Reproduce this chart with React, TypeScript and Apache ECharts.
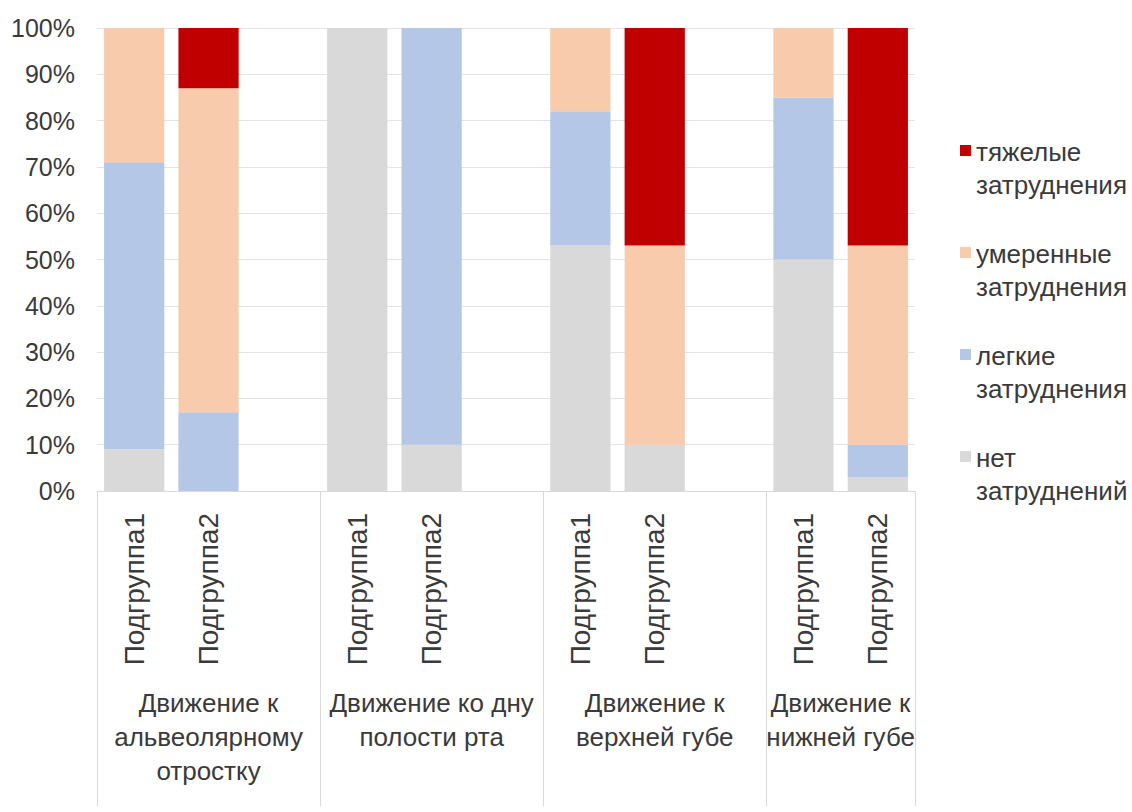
import React, { useEffect, useRef } from "react";
import * as echarts from "echarts";

// Movement groups (bottom level of the category axis)
const groupNames = [
  "Движение к\nальвеолярному\nотростку",
  "Движение ко дну\nполости рта",
  "Движение к\nверхней губе",
  "Движение к\nнижней губе",
];

// Subgroups inside each movement group
const subgroupNames = ["Подгруппа1", "Подгруппа2"];

// Shares (%) per bar, in order: group1/sub1, group1/sub2, group2/sub1, ...
const noDifficulty = [9, 0, 100, 10, 53, 10, 50, 3];
const mildDifficulty = [62, 17, 0, 90, 29, 0, 35, 7];
const moderateDifficulty = [29, 70, 0, 0, 18, 43, 15, 43];
const severeDifficulty = [0, 13, 0, 0, 0, 47, 0, 47];

const seriesNames = [
  "нет\nзатруднений",
  "легкие\nзатруднения",
  "умеренные\nзатруднения",
  "тяжелые\nзатруднения",
];
const seriesValues = [noDifficulty, mildDifficulty, moderateDifficulty, severeDifficulty];
const seriesColors = ["#D9D9D9", "#B4C7E7", "#F8CBAD", "#C00000"];

const FONT = '"Liberation Sans", Arial, sans-serif';
const TEXT_COLOR = "#3a3a3a";

// Category slots: two bars per group, each group but the last followed by an empty slot
const slotLabels: string[] = [];
const slotBar: number[] = [];
const groupSpans: [number, number][] = [];
groupNames.forEach((_, gi) => {
  const start = slotLabels.length;
  subgroupNames.forEach((s, si) => {
    slotLabels.push(s);
    slotBar.push(gi * subgroupNames.length + si);
  });
  if (gi < groupNames.length - 1) {
    slotLabels.push("");
    slotBar.push(-1);
  }
  groupSpans.push([start, slotLabels.length - 1]);
});

export default function App() {
  const ref = useRef<HTMLDivElement>(null);

  useEffect(() => {
    if (!ref.current) return;
    const chart = echarts.init(ref.current, undefined, { renderer: "svg" });

    chart.setOption({
      animation: false,
      backgroundColor: "#ffffff",
      textStyle: { fontFamily: FONT },
      grid: { left: 97, right: 217, top: 28, bottom: 321, containLabel: false },
      xAxis: {
        type: "category",
        data: slotLabels,
        axisLine: { show: true, lineStyle: { color: "#d9d9d9", width: 1 } },
        axisTick: { show: false },
        splitLine: { show: false },
        axisLabel: {
          interval: 0,
          rotate: 90,
          margin: 22,
          fontSize: 28,
          color: TEXT_COLOR,
          fontFamily: FONT,
        },
      },
      yAxis: {
        type: "value",
        min: 0,
        max: 100,
        interval: 10,
        axisLine: { show: false },
        axisTick: { show: false },
        splitLine: { lineStyle: { color: "#e3e3e3", width: 1 } },
        axisLabel: {
          formatter: "{value}%",
          fontSize: 25,
          margin: 22,
          color: TEXT_COLOR,
          fontFamily: FONT,
        },
      },
      series: seriesNames.map((name, i) => ({
        name,
        type: "bar",
        stack: "total",
        barCategoryGap: "19%",
        itemStyle: { color: seriesColors[i] },
        emphasis: { disabled: true },
        data: slotBar.map((b) => (b < 0 ? null : seriesValues[i][b])),
      })),
    });

    // Group separators, group captions and legend, placed from the axis scales
    const center = (idx: number) =>
      chart.convertToPixel({ xAxisIndex: 0 }, idx) as number;
    const band = center(1) - center(0);
    const axisY = chart.convertToPixel({ yAxisIndex: 0 }, 0) as number;
    const lineBottom = 806;

    const edges = groupSpans.map(([s, e]) => [center(s) - band / 2, center(e) + band / 2]);
    const boundaries = [...edges.map((g) => g[0]), edges[edges.length - 1][1]];

    const elements: any[] = [];
    boundaries.forEach((x) => {
      elements.push({
        type: "line",
        shape: { x1: Math.round(x) + 0.5, y1: axisY, x2: Math.round(x) + 0.5, y2: lineBottom },
        style: { stroke: "#d9d9d9", lineWidth: 1 },
        silent: true,
      });
    });

    edges.forEach(([left, right], gi) => {
      elements.push({
        type: "text",
        x: (left + right) / 2,
        y: 686,
        silent: true,
        style: {
          text: groupNames[gi],
          fill: TEXT_COLOR,
          font: `26px ${FONT}`,
          align: "center",
          verticalAlign: "top",
          lineHeight: 34,
        },
      });
    });

    // Legend, top entry is the top of the stack
    const legendOrder = [3, 2, 1, 0];
    legendOrder.forEach((si, k) => {
      const firstLine = 152 + k * 102;
      elements.push({
        type: "rect",
        shape: { x: 960, y: firstLine - 7, width: 11, height: 11 },
        style: { fill: seriesColors[si] },
        silent: true,
      });
      elements.push({
        type: "text",
        x: 976,
        y: firstLine - 16.5,
        silent: true,
        style: {
          text: seriesNames[si],
          fill: TEXT_COLOR,
          font: `26px ${FONT}`,
          align: "left",
          verticalAlign: "top",
          lineHeight: 33,
        },
      });
    });

    chart.setOption({ graphic: { elements } });

    return () => chart.dispose();
  }, []);

  return (
    <div
      ref={ref}
      style={{ position: "fixed", left: 0, top: 0, width: 1132, height: 812, background: "#fff" }}
    />
  );
}
